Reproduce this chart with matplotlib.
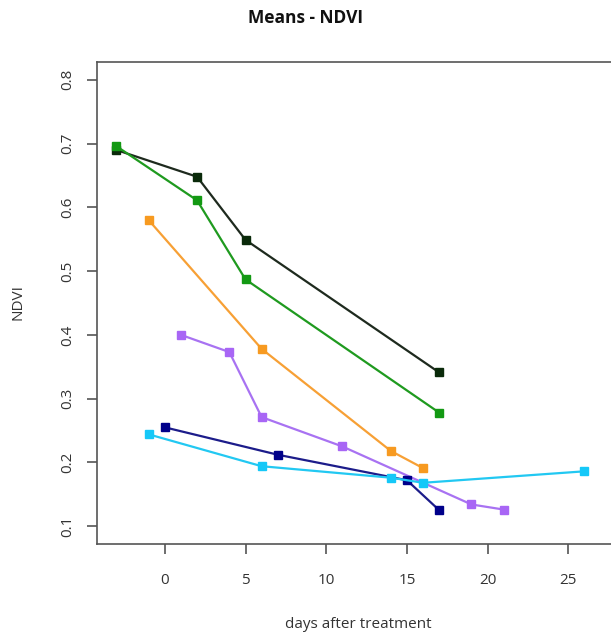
import matplotlib.pyplot as plt

plt.rcParams['font.family'] = ['Open Sans', 'DejaVu Sans']

# series (days after treatment, mean NDVI)
black_x = [-3, 2, 5, 17]
black_y = [0.690, 0.648, 0.549, 0.341]
green_x = [-3, 2, 5, 17]
green_y = [0.696, 0.611, 0.487, 0.278]
orange_x = [-1, 6, 14, 16]
orange_y = [0.580, 0.378, 0.218, 0.191]
purple_x = [1, 4, 6, 11, 19, 21]
purple_y = [0.400, 0.373, 0.271, 0.225, 0.134, 0.126]
navy_x = [0, 7, 15, 17]
navy_y = [0.255, 0.212, 0.172, 0.125]
cyan_x = [-1, 6, 14, 16, 26]
cyan_y = [0.244, 0.194, 0.176, 0.168, 0.186]

x_ticks = [0, 5, 10, 15, 20, 25]
y_ticks = [0.1, 0.2, 0.3, 0.4, 0.5, 0.6, 0.7, 0.8]

W, H = 611, 635
fig = plt.figure(figsize=(W / 100, H / 100), dpi=100)
ax = fig.add_axes([97 / W, 1 - 544 / H, (620 - 97) / W, (544 - 62) / H])

series = [
    (black_x, black_y, '#1e2a1e', '#0a2a0a'),
    (green_x, green_y, '#1f9a1f', '#139913'),
    (orange_x, orange_y, '#f7a035', '#f79a20'),
    (purple_x, purple_y, '#a872f2', '#a866f5'),
    (navy_x, navy_y, '#1c1c8a', '#00008a'),
    (cyan_x, cyan_y, '#22c8f2', '#15c8f8'),
]
for xs, ys, lc, mc in series:
    ax.plot(xs, ys, color=lc, lw=1.6, marker='s', ms=5.8,
            mfc=mc, mec=mc, zorder=3)

ax.set_xlim(-4.2, 28.2)
ax.set_ylim(0.072, 0.828)
ax.set_xticks(x_ticks)
ax.set_yticks(y_ticks)
ax.set_yticklabels([f'{v:.1f}' for v in y_ticks], rotation=90, va='center')

for s in ax.spines.values():
    s.set_color('#555555')
    s.set_linewidth(1.2)

ax.tick_params(axis='both', length=7, width=1.2, color='#555555',
               labelsize=11, labelcolor='#333333')
ax.tick_params(axis='x', pad=14)
ax.tick_params(axis='y', pad=9)

fig.text(306 / W, 1 - 18 / H, 'Means - NDVI', ha='center', va='center',
         fontsize=12.5, fontweight='bold', color='#111111')
fig.text(358 / W, 1 - 625 / H, 'days after treatment', ha='center',
         va='center', fontsize=11, color='#333333')
fig.text(18 / W, 1 - 302 / H, 'NDVI', ha='center', va='center',
         rotation=90, fontsize=11, color='#333333')

fig.savefig('out.png', dpi=100)
